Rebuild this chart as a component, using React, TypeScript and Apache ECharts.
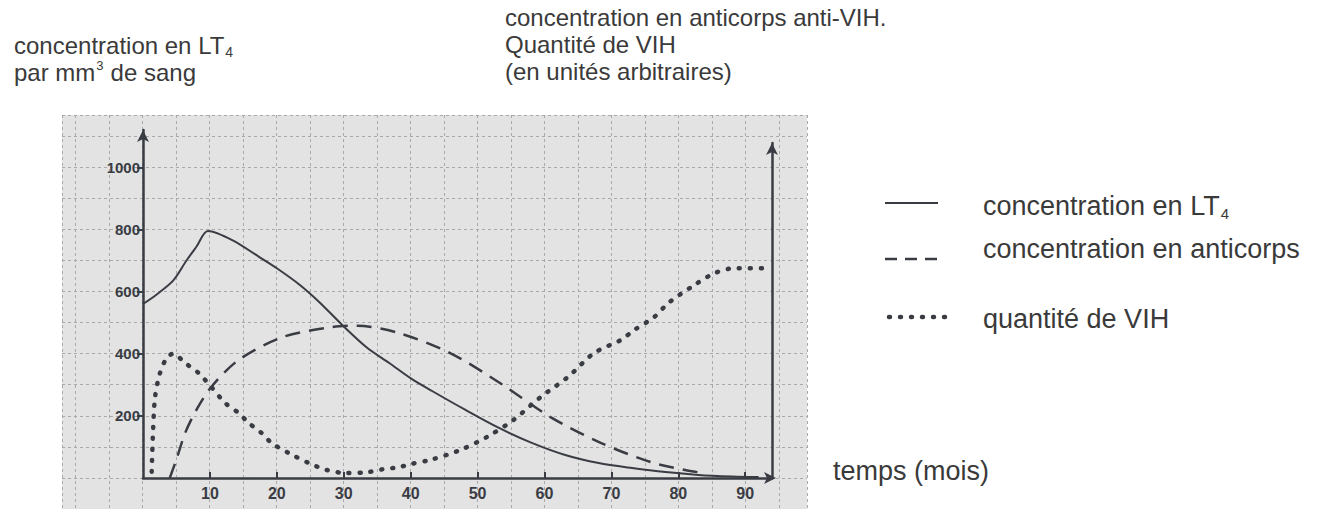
import React, { useEffect, useRef } from "react";
import * as echarts from "echarts";

// ---- data ----
const monthTicks = [10, 20, 30, 40, 50, 60, 70, 80, 90];
const lt4Ticks = [200, 400, 600, 800, 1000];

// concentration en LT4 (per mm3), solid line
const lt4Data: [number, number][] = [
  [0, 560], [2, 590], [4.5, 635], [6.5, 700], [8, 745], [9.7, 795],
  [13.4, 765], [17.4, 711], [20, 675], [23.4, 622], [26.4, 565], [29.8, 492],
  [33.4, 421], [36.8, 370], [40.2, 318], [43.2, 280], [48.2, 219], [53.2, 161],
  [58.1, 113], [63.1, 74], [68.1, 48], [73.1, 32], [78.1, 19], [83, 10],
  [88, 5], [92, 3],
];

// concentration en anticorps (arbitrary units), dashed line
const anticorpsData: [number, number][] = [
  [4, 0], [5, 60], [6.3, 145], [8, 220], [10.2, 293], [14.3, 380], [20.8, 453],
  [28.3, 486], [32, 490], [38.3, 466], [45.9, 402], [53.4, 305], [60.9, 196],
  [68.4, 113], [75.9, 51], [81, 26], [84, 15],
];

// quantité de VIH (arbitrary units), dotted line
const vihData: [number, number][] = [
  [1.3, 20], [1.5, 150], [1.8, 260], [2.5, 335], [3.5, 385], [4.5, 400],
  [6.3, 370], [8.3, 338], [10.2, 293], [12.3, 241], [14.3, 209], [15.8, 177],
  [17.7, 145], [19.2, 113], [21.8, 80], [24.8, 48], [27.4, 26], [30.4, 16],
  [33.4, 18], [35.8, 28], [38.3, 35], [40, 45], [42.9, 58], [47.4, 90],
  [51.4, 132], [55.3, 186], [59.4, 260], [63.5, 325], [67.4, 402], [71.4, 444],
  [73.4, 476], [76.4, 518], [78.5, 563], [81.9, 614], [85.4, 659], [88.4, 675],
  [92.5, 675],
];

const INK = "#3a3c44";
const TXT = "#3a3a3a";
const FONT = "'Liberation Sans', Arial, sans-serif";
const FS = 27; // legend / axis name
const FT = 24; // titles

export default function App() {
  const ref = useRef<HTMLDivElement | null>(null);

  useEffect(() => {
    if (!ref.current) return;
    const chart = echarts.init(ref.current, null, { renderer: "svg" });

    const textEl = (text: string, x: number, y: number, size: number) => ({
      type: "text",
      x,
      y,
      silent: true,
      style: {
        text,
        fill: TXT,
        fontSize: size,
        fontFamily: FONT,
        align: "left",
        verticalAlign: "middle",
      },
    });

    // width of a string in the chart's font, for placing sub/superscripts
    const measure = (s: string, size: number) => {
      try {
        return (echarts.format as any).getTextRect(s, `${size}px ${FONT}`).width;
      } catch (e) {
        return s.length * size * 0.55;
      }
    };

    const wLTt = measure("concentration en LT", FT);
    const wLTl = measure("concentration en LT", FS);
    const wParMm = measure("par mm", FT);
    const wSup = measure("3", 13);

    const option: any = {
      animation: false,
      backgroundColor: "#ffffff",
      grid: [
        { left: 62, right: 517, top: 115, bottom: 0, show: true, backgroundColor: "#e3e3e3", borderWidth: 0 },
        { left: 143, right: 552, top: 130, bottom: 31 },
        { left: 143, right: 552, top: 143, bottom: 31 },
      ],
      xAxis: [
        {
          gridIndex: 0, type: "value", min: -12, max: 99.2, splitNumber: 22,
          axisLine: { show: false }, axisTick: { show: false }, axisLabel: { show: false },
          splitLine: { show: true, lineStyle: { color: "#a9a9a9", type: [3, 3], width: 1 } },
        },
        {
          gridIndex: 1, type: "value", min: 0, max: 94, interval: 10,
          axisLine: {
            show: true, symbol: ["none", "arrow"], symbolSize: [9, 12], symbolOffset: [0, 4],
            lineStyle: { color: INK, width: 2.5 },
          },
          axisTick: { show: true, inside: true, length: 6, customValues: monthTicks, lineStyle: { color: INK, width: 2 } },
          axisLabel: {
            customValues: monthTicks, color: INK, fontSize: 16, fontWeight: "bold",
            fontFamily: FONT, margin: 7, formatter: (v: number) => String(v),
          },
          splitLine: { show: false },
        },
        { gridIndex: 2, type: "value", min: 0, max: 94, show: false },
      ],
      yAxis: [
        {
          gridIndex: 0, type: "value", min: -100, max: 1168, splitNumber: 13,
          axisLine: { show: false }, axisTick: { show: false }, axisLabel: { show: false },
          splitLine: { show: true, lineStyle: { color: "#a9a9a9", type: [3, 3], width: 1 } },
        },
        {
          gridIndex: 1, type: "value", min: 0, max: 1120, interval: 200,
          axisLine: {
            show: true, symbol: ["none", "arrow"], symbolSize: [9, 12],
            lineStyle: { color: INK, width: 2.5 },
          },
          axisTick: { show: true, length: 6, customValues: lt4Ticks, lineStyle: { color: INK, width: 2 } },
          axisLabel: {
            customValues: lt4Ticks, color: INK, fontSize: 15, fontWeight: "bold",
            fontFamily: FONT, margin: 3, formatter: (v: number) => String(v),
          },
          splitLine: { show: false },
        },
        {
          gridIndex: 2, type: "value", min: 0, max: 1, position: "right",
          axisLine: {
            show: true, onZero: false, symbol: ["none", "arrow"], symbolSize: [9, 12],
            lineStyle: { color: INK, width: 2.5 },
          },
          axisTick: { show: false }, axisLabel: { show: false }, splitLine: { show: false },
        },
      ],
      series: [
        {
          name: "concentration en LT4", type: "line", xAxisIndex: 1, yAxisIndex: 1,
          data: lt4Data, smooth: 0.3, showSymbol: false,
          lineStyle: { color: INK, width: 2 },
        },
        {
          name: "concentration en anticorps", type: "line", xAxisIndex: 1, yAxisIndex: 1,
          data: anticorpsData, smooth: 0.3, showSymbol: false,
          lineStyle: { color: INK, width: 2.5, type: [15, 9] },
        },
        {
          name: "quantité de VIH", type: "line", xAxisIndex: 1, yAxisIndex: 1,
          data: vihData, smooth: 0.3, showSymbol: false,
          lineStyle: { color: INK, width: 4.5, type: [1, 10], cap: "round" },
        },
      ],
      graphic: [
        // left title
        textEl("concentration en LT", 14, 45, FT),
        textEl("4", 14 + wLTt + 1, 52, 14),
        textEl("par mm", 14, 72, FT),
        textEl("3", 14 + wParMm + 1, 65, 13),
        textEl("de sang", 14 + wParMm + wSup + 8, 72, FT),
        // right title
        textEl("concentration en anticorps anti-VIH.", 505, 17, FT),
        textEl("Quantité de VIH", 505, 44, FT),
        textEl("(en unités arbitraires)", 505, 71, FT),
        // x axis name
        textEl("temps (mois)", 833, 471, FS),
        // legend
        {
          type: "line", silent: true,
          shape: { x1: 885, y1: 203, x2: 938, y2: 203 },
          style: { stroke: INK, lineWidth: 2 },
        },
        {
          type: "line", silent: true,
          shape: { x1: 885, y1: 259, x2: 942, y2: 259 },
          style: { stroke: INK, lineWidth: 2.5, lineDash: [12, 8] },
        },
        {
          type: "line", silent: true,
          shape: { x1: 889, y1: 317, x2: 946, y2: 317 },
          style: { stroke: INK, lineWidth: 4.5, lineDash: [1, 10], lineCap: "round" },
        },
        textEl("concentration en LT", 983, 206, FS),
        textEl("4", 983 + wLTl + 1, 213, 15),
        textEl("concentration en anticorps", 983, 249, FS),
        textEl("quantité de VIH", 983, 319, FS),
      ],
    };

    chart.setOption(option);
    return () => chart.dispose();
  }, []);

  return (
    <div
      ref={ref}
      style={{ position: "fixed", left: 0, top: 0, width: 1324, height: 509, background: "#fff" }}
    />
  );
}
